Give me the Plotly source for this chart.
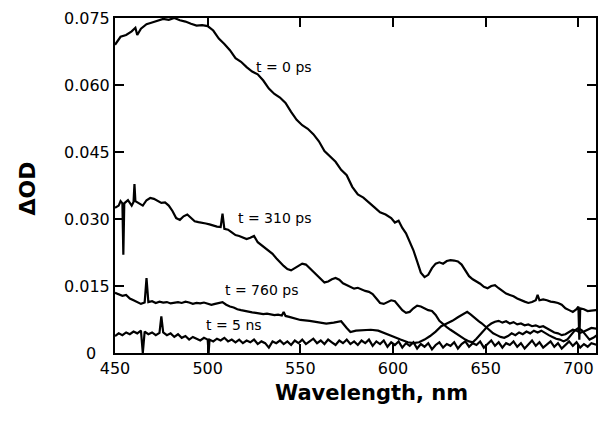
import plotly.graph_objects as go

# ---- data ----
wl_0ps = [450, 453, 456, 459, 461, 462, 464, 467, 470, 473, 476, 479, 482, 485, 488, 491, 494, 497, 500,
          503, 506, 509, 512, 515, 518, 521, 524, 527, 530, 533, 536, 539, 542, 545, 548, 551, 554, 557,
          560, 563, 566, 569, 572, 575, 578, 581, 584, 587, 590, 593, 596, 599, 601, 603, 605, 607, 609,
          611, 613, 615, 617, 619, 621, 623, 625, 627, 629, 631, 633, 635, 637, 639, 641, 643, 645, 647,
          649, 651, 653, 655, 657, 659, 661, 663, 665, 667, 669, 671, 673, 675, 677, 678, 679, 681, 683,
          685, 687, 689, 691, 693, 695, 697, 699, 700, 700.5, 701, 703, 705, 707, 710]
od_0ps = [0.0690, 0.0708, 0.0712, 0.0720, 0.0728, 0.0712, 0.0726, 0.0736, 0.0740, 0.0744, 0.0748, 0.0746,
          0.0750, 0.0745, 0.0742, 0.0737, 0.0733, 0.0734, 0.0732,
          0.0722, 0.0704, 0.0692, 0.0678, 0.0660, 0.0652, 0.0640, 0.0630, 0.0624, 0.0610, 0.0592, 0.0580,
          0.0572, 0.0560, 0.0540, 0.0522, 0.0510, 0.0502, 0.0490,
          0.0474, 0.0452, 0.0440, 0.0428, 0.0410, 0.0398, 0.0372, 0.0355, 0.0348, 0.0338, 0.0326, 0.0315,
          0.0310, 0.0302, 0.0292, 0.0296, 0.0280, 0.0268, 0.0250,
          0.0230, 0.0205, 0.0180, 0.0170, 0.0175, 0.0190, 0.0200, 0.0203, 0.0200, 0.0206, 0.0208, 0.0207,
          0.0205, 0.0198, 0.0185, 0.0172, 0.0165, 0.0160, 0.0155,
          0.0148, 0.0145, 0.0150, 0.0152, 0.0145, 0.0138, 0.0133, 0.0130, 0.0127, 0.0122, 0.0118, 0.0115,
          0.0112, 0.0114, 0.0118, 0.0130, 0.0118, 0.0120, 0.0118,
          0.0115, 0.0114, 0.0112, 0.0108, 0.0100, 0.0096, 0.0092, 0.0098, 0.0104, 0.0030, 0.0100, 0.0098,
          0.0094, 0.0095, 0.0096]

wl_310ps = [450, 452, 453, 454, 454.5, 455, 457, 459, 460, 460.5, 461, 463, 465, 467, 469, 471, 473, 475,
            477, 479, 481, 483, 485, 487, 489, 491, 493, 495, 497, 499, 501, 503, 505, 507, 508, 509, 511,
            513, 515, 517, 519, 521, 523, 525, 527, 529, 531, 533, 535, 537, 539, 541, 543, 545, 547, 549,
            551, 553, 555, 557, 559, 561, 563, 565, 567, 569, 571, 573, 575, 577, 579, 581, 583, 585, 587,
            589, 591, 593, 595, 597, 599, 601, 603, 605, 607, 609, 611, 613, 615, 617, 619, 621, 623, 625,
            627, 629, 631, 633, 635, 637, 639, 641, 643, 645, 647, 649, 651, 653, 655, 657, 659, 661, 663,
            665, 667, 669, 671, 673, 675, 677, 679, 681, 683, 685, 687, 689, 691, 693, 695, 697, 699, 701,
            703, 705, 707, 710]
od_310ps = [0.0325, 0.0330, 0.0340, 0.0335, 0.0220, 0.0335, 0.0342, 0.0330, 0.0338, 0.0378, 0.0340, 0.0335,
            0.0330, 0.0342, 0.0347, 0.0345, 0.0340, 0.0336,
            0.0337, 0.0330, 0.0318, 0.0302, 0.0298, 0.0306, 0.0310, 0.0303, 0.0295, 0.0293, 0.0292, 0.0290,
            0.0288, 0.0285, 0.0283, 0.0282, 0.0312, 0.0278, 0.0276,
            0.0270, 0.0264, 0.0262, 0.0258, 0.0255, 0.0258, 0.0262, 0.0248, 0.0242, 0.0235, 0.0228, 0.0222,
            0.0212, 0.0203, 0.0195, 0.0188, 0.0185, 0.0190, 0.0196,
            0.0200, 0.0198, 0.0190, 0.0182, 0.0172, 0.0164, 0.0158, 0.0160, 0.0165, 0.0168, 0.0164, 0.0156,
            0.0152, 0.0148, 0.0144, 0.0146, 0.0142, 0.0139, 0.0137,
            0.0132, 0.0122, 0.0112, 0.0110, 0.0114, 0.0118, 0.0116, 0.0106, 0.0096, 0.0090, 0.0092, 0.0100,
            0.0106, 0.0104, 0.0100, 0.0096, 0.0094, 0.0085, 0.0072,
            0.0064, 0.0058, 0.0052, 0.0046, 0.0040, 0.0034, 0.0030, 0.0026, 0.0024, 0.0032, 0.0042, 0.0052,
            0.0060, 0.0066, 0.0070, 0.0072, 0.0068, 0.0071, 0.0066,
            0.0069, 0.0064, 0.0066, 0.0062, 0.0064, 0.0060, 0.0062, 0.0058, 0.0060, 0.0055, 0.0050, 0.0046,
            0.0044, 0.0040, 0.0042, 0.0048, 0.0052, 0.0050, 0.0045,
            0.0048, 0.0052, 0.0056, 0.0054]

wl_760ps = [450, 452, 454, 456, 458, 460, 462, 464, 466, 467, 468, 470, 472, 474, 476, 478, 480, 482, 484,
            486, 488, 490, 492, 494, 496, 498, 500, 502, 504, 506, 508, 510, 512, 514, 516, 518, 520, 522,
            524, 526, 528, 530, 532, 534, 536, 538, 540, 541, 542, 544, 546, 548, 550, 555, 560, 564, 568,
            572, 575, 577, 580, 584, 588, 592, 596, 600, 604, 608, 611, 614, 617, 620, 623, 626, 629, 632,
            635, 638, 640, 642, 644, 646, 648, 650, 652, 654, 656, 658, 660, 662, 664, 666, 668, 670, 672,
            674, 676, 678, 680, 682, 684, 686, 688, 690, 692, 694, 696, 698, 700, 702, 704, 706, 708, 710]
od_760ps = [0.0135, 0.0132, 0.0128, 0.0130, 0.0122, 0.0118, 0.0114, 0.0110, 0.0113, 0.0168, 0.0114, 0.0116,
            0.0112, 0.0115, 0.0113, 0.0114, 0.0111, 0.0113, 0.0114,
            0.0112, 0.0115, 0.0113, 0.0110, 0.0112, 0.0111, 0.0113, 0.0110, 0.0108, 0.0110, 0.0112, 0.0114,
            0.0108, 0.0104, 0.0102, 0.0098, 0.0096, 0.0094, 0.0092,
            0.0091, 0.0090, 0.0088, 0.0087, 0.0088, 0.0086, 0.0085, 0.0086, 0.0084, 0.0092, 0.0083, 0.0081,
            0.0079, 0.0077, 0.0074, 0.0072, 0.0068, 0.0066, 0.0068,
            0.0071, 0.0056, 0.0047, 0.0050, 0.0051, 0.0052, 0.0050, 0.0044, 0.0037, 0.0030, 0.0024, 0.0022,
            0.0024, 0.0030, 0.0038, 0.0048, 0.0060, 0.0066, 0.0072,
            0.0080, 0.0088, 0.0092, 0.0086, 0.0078, 0.0072, 0.0066, 0.0058, 0.0050, 0.0044, 0.0040, 0.0036,
            0.0034, 0.0038, 0.0044, 0.0040, 0.0046, 0.0042, 0.0048,
            0.0044, 0.0050, 0.0046, 0.0050, 0.0044, 0.0040, 0.0036, 0.0032, 0.0030, 0.0026, 0.0030, 0.0040,
            0.0050, 0.0056, 0.0050, 0.0040, 0.0030, 0.0034, 0.0040]

wl_5ns = [450, 452, 454, 456, 458, 460, 462, 464, 465, 466, 468, 470, 472, 474, 475, 476, 478, 480, 482,
          484, 486, 488, 490, 492, 494, 496, 498, 500, 500.5, 501, 503, 505, 507, 509, 511, 513, 515, 517,
          519, 521, 523, 525, 527, 529, 531, 533, 535, 537, 539, 541, 543, 545, 547, 549, 551, 553, 555,
          557, 559, 561, 563, 565, 567, 569, 571, 573, 575, 577, 579, 581, 583, 585, 587, 589, 591, 593,
          595, 597, 599, 601, 603, 605, 607, 609, 611, 613, 615, 617, 619, 621, 623, 625, 627, 629, 631,
          633, 635, 637, 639, 641, 643, 645, 647, 649, 651, 653, 655, 657, 659, 661, 663, 665, 667, 669,
          671, 673, 675, 677, 679, 681, 683, 685, 687, 689, 691, 693, 695, 697, 699, 701, 703, 705, 707, 710]
od_5ns = [0.0038, 0.0044, 0.0040, 0.0046, 0.0042, 0.0048, 0.0044, 0.0050, 0.0000, 0.0048, 0.0042, 0.0046,
          0.0040, 0.0045, 0.0082, 0.0046, 0.0040, 0.0044, 0.0036,
          0.0042, 0.0034, 0.0038, 0.0030, 0.0036, 0.0032, 0.0028, 0.0034, 0.0030, 0.0000, 0.0030, 0.0026,
          0.0032, 0.0028, 0.0034, 0.0026, 0.0030, 0.0024, 0.0030,
          0.0022, 0.0028, 0.0024, 0.0030, 0.0020, 0.0026, 0.0022, 0.0012, 0.0026, 0.0022, 0.0028, 0.0020,
          0.0026, 0.0018, 0.0028, 0.0022, 0.0030, 0.0020, 0.0026,
          0.0032, 0.0022, 0.0028, 0.0020, 0.0030, 0.0024, 0.0018, 0.0028, 0.0022, 0.0030, 0.0020, 0.0026,
          0.0018, 0.0028, 0.0022, 0.0030, 0.0016, 0.0026, 0.0020,
          0.0028, 0.0014, 0.0024, 0.0018, 0.0026, 0.0012, 0.0022, 0.0016, 0.0024, 0.0010, 0.0020, 0.0014,
          0.0022, 0.0008, 0.0018, 0.0024, 0.0012, 0.0020, 0.0016,
          0.0024, 0.0010, 0.0020, 0.0026, 0.0014, 0.0022, 0.0018, 0.0026, 0.0012, 0.0020, 0.0028, 0.0016,
          0.0024, 0.0012, 0.0022, 0.0018, 0.0026, 0.0014, 0.0022,
          0.0010, 0.0020, 0.0028, 0.0016, 0.0024, 0.0012, 0.0020, 0.0026, 0.0014, 0.0022, 0.0010, 0.0018,
          0.0026, 0.0016, 0.0024, 0.0012, 0.0020, 0.0014, 0.0022, 0.0018]

series_labels = ["t = 0 ps", "t = 310 ps", "t = 760 ps", "t = 5 ns"]
label_wl = [541, 536, 529, 514]
label_od = [0.0640, 0.0302, 0.0141, 0.0063]

x_ticks = [450, 500, 550, 600, 650, 700]
y_ticks = [0, 0.015, 0.030, 0.045, 0.060, 0.075]
y_ticktext = ["", "0.015", "0.030", "0.045", "0.060", "0.075"]
y_zero_label = "0"

# ---- figure ----
fig = go.Figure()
for wl, od in [(wl_0ps, od_0ps), (wl_310ps, od_310ps), (wl_760ps, od_760ps), (wl_5ns, od_5ns)]:
    fig.add_trace(go.Scatter(x=wl, y=od, mode="lines",
                             line=dict(color="black", width=2.2), showlegend=False,
                             hoverinfo="skip"))

for txt, lx, ly in zip(series_labels, label_wl, label_od):
    fig.add_annotation(x=lx, y=ly, xref="x", yref="y", text=txt, showarrow=False,
                       font=dict(family="DejaVu Sans", size=14, color="black"))

# "0" label of the y axis, set slightly left as in the reference
fig.add_annotation(x=-0.05, y=0.0, xref="paper", yref="paper", text=y_zero_label, showarrow=False,
                   xanchor="center", yanchor="middle",
                   font=dict(family="DejaVu Sans", size=16, color="black"))

fig.add_annotation(x=0.534, y=-0.12, xref="paper", yref="paper", text="<b>Wavelength, nm</b>",
                   xanchor="center", yanchor="middle",
                   showarrow=False, font=dict(family="DejaVu Sans", size=21, color="black"))
fig.add_annotation(x=-0.182, y=0.4925, xref="paper", yref="paper", text="<b>ΔOD</b>", textangle=-90,
                   xanchor="center", yanchor="middle",
                   showarrow=False, font=dict(family="DejaVu Sans", size=22, color="black"))

axis_common = dict(showgrid=False, zeroline=False, showline=True, linecolor="black", linewidth=2,
                   mirror="ticks", ticks="inside", ticklen=9, tickwidth=2, tickcolor="black",
                   tickfont=dict(family="DejaVu Sans", size=16, color="black"))

fig.update_xaxes(range=[450, 709.5], tickvals=x_ticks, ticktext=[str(v) for v in x_ticks], **axis_common)
fig.update_yaxes(range=[0, 0.075], tickvals=y_ticks, ticktext=y_ticktext, **axis_common)

fig.update_layout(width=599, height=423, margin=dict(l=115, r=1, t=18, b=70),
                  plot_bgcolor="white", paper_bgcolor="white")

fig.write_html("out.html")
